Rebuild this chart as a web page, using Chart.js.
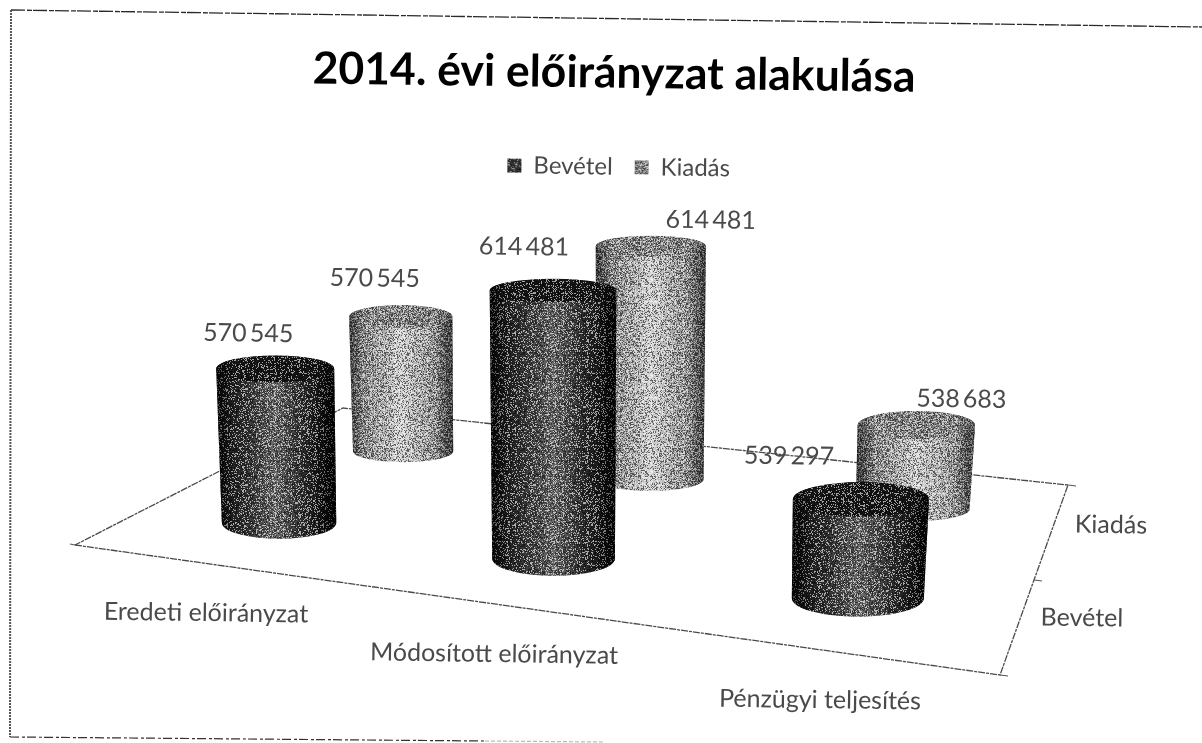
<!DOCTYPE html>
<html><head><meta charset="utf-8">
<style>html,body{margin:0;padding:0;background:#fff}canvas{display:block}</style>
<script src="https://cdn.jsdelivr.net/npm/chart.js@4"></script>
</head><body><canvas id="c" width="1202" height="743"></canvas>
<script>
const categories = ['Eredeti előirányzat', 'Módosított előirányzat', 'Pénzügyi teljesítés'];
const depthLabels = ['Bevétel', 'Kiadás'];
const bevetel = [570545, 614481, 539297];
const kiadas = [570545, 614481, 538683];
const chartTitle = '2014. évi előirányzat alakulása';
const axisMin = 500000, axisMax = 620000;

// Scan skew and floor plane of the 3-D view
const SKEW = 0.014;
const floorCorners = [[75,545],[1000,675],[1068,485],[343,408]];
const slotU = [[0.169,0.504,0.837],[0.1737,0.511,0.837]];
const slotV = [0.235, 0.735];
const heightFactor = 2.22;
const valueLabelOffsets = [[[-27,-22],[-29,-32],[-72,-26]], [[-26,-26],[60,-15],[45,-11]]];
const categoryLabelPos = [[206,613],[494,654],[820,700]];
const depthLabelPos = [[1082,618],[1111,525]];
const ramps = [
  {side:['#0c0c0c','#333','#6c6c6c','#2c2c2c','#050505'], cap:'#161616', legend:'#333', edge:.6},
  {side:['#5c5c5c','#999','#cfcfcf','#a0a0a0','#5a5a5a'], cap:'#808080', legend:'#8c8c8c', edge:.4}
];

function homography(q){
  const [[x0,y0],[x1,y1],[x2,y2],[x3,y3]] = q;
  const dx1=x1-x2, dx2=x3-x2, sx=x0-x1+x2-x3, dy1=y1-y2, dy2=y3-y2, sy=y0-y1+y2-y3;
  const den=dx1*dy2-dx2*dy1;
  const g=(sx*dy2-dx2*sy)/den, h=(dx1*sy-sx*dy1)/den;
  const a=x1-x0+g*x1, b=x3-x0+h*x3, d=y1-y0+g*y1, e=y3-y0+h*y3;
  return (u,v)=>{const w=g*u+h*v+1; return [(a*u+b*v+x0)/w,(d*u+e*v+y0)/w];};
}
const project = homography(floorCorners);

function speckleTile(base, whiteP, blackP){
  const n=96, cv=document.createElement('canvas'); cv.width=cv.height=n;
  const c=cv.getContext('2d');
  if(base){c.fillStyle=base;c.fillRect(0,0,n,n);}
  for(let y=0;y<n;y++)for(let x=0;x<n;x++){
    let s=(x*73856093 ^ y*19349663)>>>0; s=(s^(s>>>13))*1274126177>>>0; s=(s^(s>>>16))>>>0;
    const r=(s%1000)/1000;
    const grid=(x%8===3||y%8===5);
    if(r<whiteP*(grid?1.6:0.8)){c.fillStyle='rgba(255,255,255,.6)';c.fillRect(x,y,1,1);}
    else if(r>1-blackP){c.fillStyle='rgba(0,0,0,.5)';c.fillRect(x,y,1,1);}
  }
  return cv;
}
const bodyTiles=[speckleTile(null,.22,.3),speckleTile(null,.3,.26)];

class CylinderElement extends Chart.BarElement {
  static id='cylinder';
  draw(ctx){
    const cat=this.cat, dep=this.depth, ramp=ramps[dep];
    const [bx,by]=project(slotU[dep][cat],slotV[dep]);
    const w=6.1+0.00376*bx+0.2119*by;
    const H=this.$plotHeight;
    const h=w*(this.base-this.y)/H*heightFactor;
    const ty=by-h, tx=bx+(bx-600)*0.012;
    const ry=y=>9.9+3.7e-5*y*y;
    const ryT=ry(ty)*(dep?0.85:0.9), ryB=ry(by)*(dep?0.62:0.8), wb=w*0.97;
    ctx.save();
    ctx.setTransform(1,0,0,1,0,0);
    ctx.beginPath();
    ctx.ellipse(tx,ty,w/2,ryT,0,Math.PI,0);
    ctx.ellipse(bx,by,wb/2,ryB,0,0,Math.PI);
    ctx.closePath();
    ctx.clip();
    const g=ctx.createLinearGradient(tx-w/2,0,tx+w/2,0);
    ramp.side.forEach((col,i)=>g.addColorStop(i/(ramp.side.length-1),col));
    const rx=tx-w, ry0=ty-ryT-4, rw=w*2, rh=h+ryT+ryB+8;
    ctx.fillStyle=g;
    ctx.fillRect(rx,ry0,rw,rh);
    ctx.fillStyle=ramp.cap;
    ctx.beginPath();ctx.ellipse(tx,ty,w/2,ryT,0,0,Math.PI*2);ctx.fill();
    ctx.fillStyle=ctx.createPattern(bodyTiles[dep],'repeat');
    ctx.fillRect(rx,ry0,rw,rh);
    const edge=ctx.createLinearGradient(tx-w/2,0,tx+w/2,0);
    edge.addColorStop(0,`rgba(0,0,0,${ramp.edge})`);
    edge.addColorStop(.14,'rgba(0,0,0,0)');
    edge.addColorStop(.84,'rgba(0,0,0,0)');
    edge.addColorStop(1,`rgba(0,0,0,${ramp.edge})`);
    ctx.fillStyle=edge;
    ctx.fillRect(rx,ry0,rw,rh);
    ctx.restore();
  }
}
class CylinderController extends Chart.BarController {
  static id='cylinder';
  static defaults={...Chart.BarController.defaults,dataElementType:'cylinder'};
  static overrides=Chart.BarController.overrides;
  updateElements(bars,start,count,mode){
    super.updateElements(bars,start,count,mode);
    const area=this.chart.chartArea;
    for(let i=start;i<start+count;i++){
      bars[i].cat=i;bars[i].depth=this.index;bars[i].$plotHeight=area.bottom-area.top;
    }
  }
}
Chart.register(CylinderElement,CylinderController);

function seg(ctx,pts,color,width,dash){
  ctx.beginPath();pts.forEach((p,i)=>i?ctx.lineTo(p[0],p[1]):ctx.moveTo(p[0],p[1]));
  ctx.strokeStyle=color;ctx.lineWidth=width;ctx.setLineDash(dash||[]);ctx.stroke();ctx.setLineDash([]);
}
function tiltedText(ctx,text,x,y,font,color){
  ctx.save();ctx.setTransform(1,0,0,1,0,0);ctx.translate(x,y);ctx.rotate(SKEW);
  ctx.font=font;ctx.fillStyle=color;ctx.textAlign='center';ctx.textBaseline='middle';
  ctx.fillText(text,0,0);ctx.restore();
}
const fmt=v=>String(v).replace(/(\d{3})(\d{3})$/,'$1\u2009$2');

const scene={
  id:'scene',
  afterLayout(chart){const l=chart.legend;l.left+=6;l.right+=6;},
  beforeDraw(chart){
    const ctx=chart.ctx;
    ctx.save();ctx.setTransform(1,0,0,1,0,0);
    ctx.fillStyle='#fff';ctx.fillRect(0,0,chart.width,chart.height);
    seg(ctx,[[11,10],[1202,27]],'#2a2a2a',1.3,[14,2,5,1]);
    seg(ctx,[[11,10],[10,737]],'#555',2,[2,1]);
    seg(ctx,[[10,737],[485,741]],'#333',1.2,[9,3,3,2]);
    seg(ctx,[[485,741],[605,742]],'#bbb',1.2,[4,2]);
    ctx.restore();
    ctx.save();ctx.rotate(SKEW);
  },
  beforeDatasetsDraw(chart){
    const ctx=chart.ctx, q=floorCorners;
    ctx.save();ctx.setTransform(1,0,0,1,0,0);
    seg(ctx,[q[0],q[1],q[2],q[3],q[0]],'#4a4a4a',1.3,[7,1,3,1]);
    const mid=[(q[1][0]+q[2][0])/2,(q[1][1]+q[2][1])/2];
    [q[1],mid,q[2]].forEach(p=>seg(ctx,[p,[p[0]+8,p[1]+1]],'#555',1.2));
    seg(ctx,[q[0],[q[0][0]-5,q[0][1]-1]],'#555',1.2);
    ctx.restore();
  },
  afterDatasetsDraw(chart){
    const ctx=chart.ctx, font='400 25px Lato', color='#4a4a4a';
    [bevetel,kiadas].forEach((vals,d)=>vals.forEach((v,i)=>{
      const bar=chart.getDatasetMeta(d).data[i];
      const [bx,by]=project(slotU[d][i],slotV[d]);
      const w=6.1+0.00376*bx+0.2119*by;
      const top=by-w*(bar.base-bar.y)/bar.$plotHeight*heightFactor;
      const ry=9.9+3.7e-5*top*top;
      const tx=bx+(bx-600)*0.012;
      const o=valueLabelOffsets[d][i];
      tiltedText(ctx,fmt(v),tx+o[0],top-ry*0.9+o[1],font,color);
    }));
    categories.forEach((t,i)=>tiltedText(ctx,t,categoryLabelPos[i][0],categoryLabelPos[i][1],font,color));
    depthLabels.forEach((t,i)=>tiltedText(ctx,t,depthLabelPos[i][0],depthLabelPos[i][1],font,color));
  },
  afterDraw(chart){chart.ctx.restore();}
};

const legendFills=ramps.map((r,i)=>{
  const tile=speckleTile(r.legend,.2,.25);
  return document.getElementById('c').getContext('2d').createPattern(tile,'repeat');
});

new Chart(document.getElementById('c'),{
  type:'cylinder',
  data:{labels:categories,datasets:[
    {label:depthLabels[0],data:bevetel,base:axisMin,backgroundColor:'#333',clip:false},
    {label:depthLabels[1],data:kiadas,base:axisMin,backgroundColor:'#8c8c8c',clip:false}
  ]},
  plugins:[scene],
  options:{
    responsive:false,animation:false,
    layout:{padding:{left:28,top:38,bottom:6,right:0}},
    scales:{
      x:{display:false},
      y:{display:false,min:axisMin,max:axisMax,beginAtZero:false}
    },
    plugins:{
      title:{display:true,text:chartTitle,color:'#000',font:{family:'Lato',size:44.5,weight:'bold'},padding:{top:0,bottom:33}},
      legend:{display:true,position:'top',labels:{
        font:{family:'Lato',size:24,weight:'400'},color:'#4a4a4a',boxWidth:14,boxHeight:14,padding:22,
        generateLabels(chart){
          return depthLabels.map((t,i)=>({text:t,fillStyle:legendFills[i],strokeStyle:'transparent',lineWidth:0,datasetIndex:i,fontColor:'#4a4a4a'}));
        }
      }},
      tooltip:{enabled:false}
    }
  }
});
</script></body></html>
